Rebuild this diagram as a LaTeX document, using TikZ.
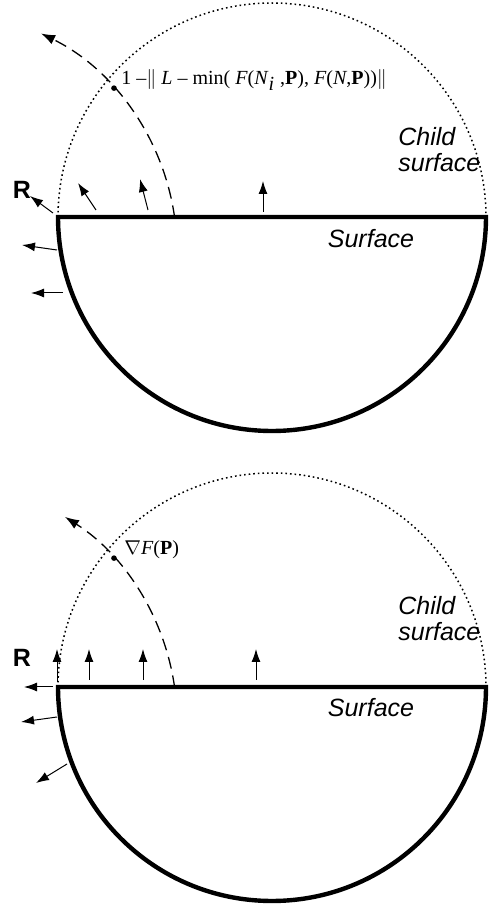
\documentclass[tikz,border=0pt]{standalone}
\usepackage{fontspec}
\setmainfont{Liberation Serif}
\setsansfont{Liberation Sans}
\usetikzlibrary{arrows.meta}

\begin{document}
\begin{tikzpicture}[x=0.5pt,y=0.5pt,
  surf/.style={line width=2.2pt,line join=miter},
  child/.style={line width=0.75pt,dash pattern=on 0.8pt off 1.5pt},
  ray/.style={line width=0.65pt,dash pattern=on 6pt off 3.5pt,-{Latex[length=7pt,width=5pt]}},
  vec/.style={line width=0.5pt,-{Latex[length=6.5pt,width=4.5pt]}},
  lab/.style={font=\sffamily\itshape\fontsize{12.5}{13}\selectfont,align=left,inner sep=0pt},
  rlab/.style={font=\sffamily\bfseries\fontsize{12.5}{14}\selectfont,inner sep=0pt},
  eq/.style={font=\fontsize{10}{12}\selectfont,anchor=west,inner sep=0pt}]
  \useasboundingbox (0,0) rectangle (490,907);
  % upper sketch: blended ray
  \begin{scope}[shift={(272,690)}]
    \draw[child] (-214,0) arc[start angle=180,end angle=0,radius=214];
    \draw[surf] (214,0) -- (-214,0) arc[start angle=180,end angle=360,radius=214] -- cycle;
    \draw[ray] (-97.4,-0.3) arc[start angle=8,end angle=64,radius=242];
    \coordinate (p1) at ([shift={(-337,-34)}]42.3:242); \fill (p1) circle (2.8);
    \node[eq] (f1) at (-151,137) {1 –$\|$ \textit{L} – min( \textit{F}(\textit{N}$_{\textit{i}}$ ,\textbf{P}), \textit{F}(\textit{N},\textbf{P}))$\|$};
    \draw[vec] (-219,4) -- (-242,21); \node[rlab] (r1) at (-250,27) {R};
    \draw[vec] (-176,7) -- (-194,34);
    \draw[vec] (-124,7) -- (-132,38);
    \draw[vec] (-9,5) -- (-9,36);
    \draw[vec] (-215,-33) -- (-250,-28);
    \draw[vec] (-209,-76) -- (-241,-76);
    \node[lab] (s1) at (99,-22) {Surface};
    \node[lab,anchor=west] (c1) at (126,67) {Child\\surface};
  \end{scope}
  % lower sketch: gradient ray
  \begin{scope}[shift={(272,220)}]
    \draw[child] (-214,0) arc[start angle=180,end angle=0,radius=214];
    \draw[surf] (214,0) -- (-214,0) arc[start angle=180,end angle=360,radius=214] -- cycle;
    \draw[ray] (-97.4,-0.3) arc[start angle=8,end angle=57.5,radius=242];
    \coordinate (p2) at ([shift={(-337,-34)}]42.3:242); \fill (p2) circle (2.8);
    \node[eq] (f2) at (-148,137) {$\nabla$\textit{F}(\textbf{P})};
    \draw[vec] (-215,5) -- (-215,38); \node[rlab] (r2) at (-250,29) {R};
    \draw[vec] (-183,7) -- (-183,38);
    \draw[vec] (-129,7) -- (-129,38);
    \draw[vec] (-16,7) -- (-16,38);
    \draw[vec] (-219,0) -- (-248,0);
    \draw[vec] (-215,-30) -- (-251,-35);
    \draw[vec] (-205,-77) -- (-236,-96);
    \node[lab] (s2) at (99,-21) {Surface};
    \node[lab,anchor=west] (c2) at (126,68) {Child\\surface};
  \end{scope}
\end{tikzpicture}
\end{document}
